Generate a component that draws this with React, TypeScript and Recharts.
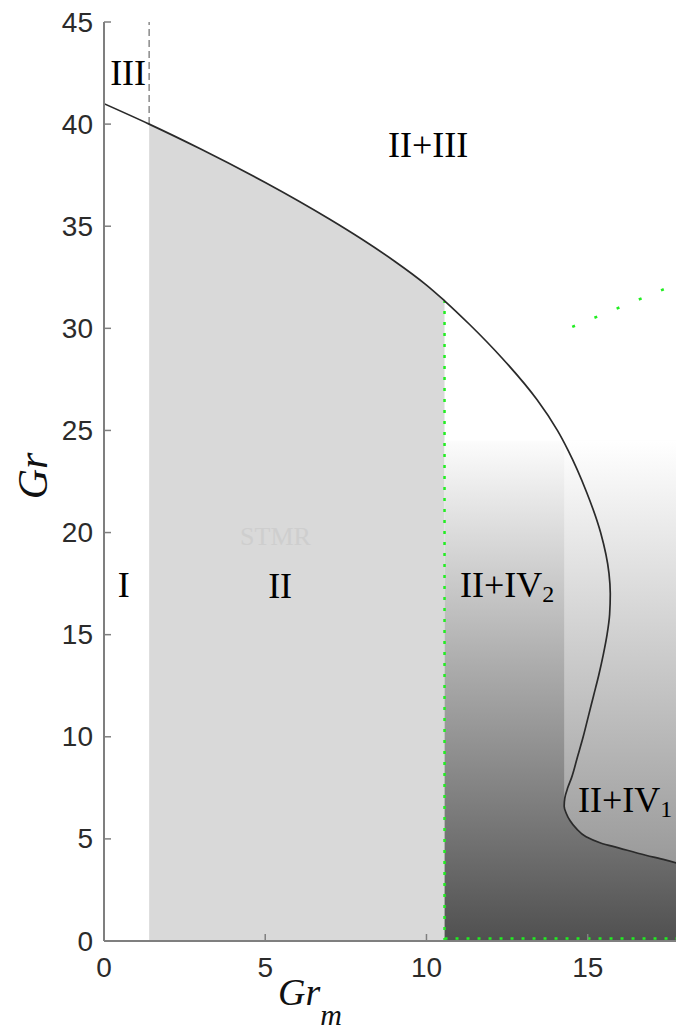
import {Area, ComposedChart, Label, Line, Scatter, XAxis, YAxis} from 'recharts'

// axis ticks
const grmTicks = [0, 5, 10, 15]
const grTicks = [0, 5, 10, 15, 20, 25, 30, 35, 40, 45]
const grmMax = 17.8
const grMax = 45

// neutral curve, read along its length (Gr_m, Gr); Gr falls all the way along it
const curveGrm = [
	0, 1.4, 3, 5, 7, 8, 9, 10, 10.56, 11.33, 12.37, 13.43, 14.06, 14.4, 14.96, 15.4, 15.66, 15.7, 15.68, 15.6, 15.48, 15.34,
	15.18, 15.02, 14.86, 14.68, 14.5, 14.38, 14.29, 14.27, 14.33, 14.45, 14.65, 14.95, 15.4, 15.98, 16.8, 17.4, 17.8,
]
const curveGr = [
	41.0, 40.0, 38.78, 37.14, 35.34, 34.36, 33.3, 32.12, 31.35, 30.2, 28.5, 26.5, 25.0, 24.0, 22.0, 20.0, 18.0, 17.0, 16.0, 15.0,
	14.0, 13.0, 12.0, 11.0, 10.0, 9.0, 8.0, 7.5, 7.0, 6.6, 6.27, 5.9, 5.5, 5.1, 4.8, 4.55, 4.2, 3.97, 3.8,
]

// region boundaries
const stmrGrm = 1.4 // dashed line / left edge of region II
const ivGrm = 10.56 // green dotted boundary
const darkTopGr = 24.5
const lightGrm = [14.27, 14.33, 14.45, 14.65, 14.95, 15.4, 15.98, 16.8, 17.4, 17.8]
const lightLow = [6.6, 6.27, 5.9, 5.5, 5.1, 4.8, 4.55, 4.2, 3.97, 3.8]
const greenDiagGrm = [14.52, 17.8]
const greenDiagGr = [30.07, 32.2]

// region names
const labelText = ['III', 'II+III', 'I', 'II', 'II+IV', 'II+IV']
const labelSub = ['', '', '', '', '2', '1']
const labelGrm = [0.19, 8.81, 0.43, 5.09, 11.04, 14.7]
const labelGr = [41.92, 38.39, 16.85, 16.8, 16.85, 6.32]
const watermark = [{x: 4.22, y: 19.39, text: 'STMR'}]

const curve = curveGrm.map((x, i) => ({x, y: curveGr[i]}))
const regionII = curve.filter((p, i) => i >= 1 && i <= 8)
const darkCol = [{x: ivGrm, y: darkTopGr}, {x: grmMax, y: darkTopGr}]
const lightBand = lightGrm.map((x, i) => ({x, band: [lightLow[i], darkTopGr]}))
const greenVert = [{x: ivGrm, y: 0}, {x: ivGrm, y: curveGr[8]}]
const greenBottom = [{x: ivGrm, y: 0.12}, {x: grmMax, y: 0.12}]
const greenDiag = greenDiagGrm.map((x, i) => ({x, y: greenDiagGr[i]}))
const dashedIII = [{x: stmrGrm, y: curveGr[1]}, {x: stmrGrm, y: grMax}]
const labels = labelText.map((text, i) => ({x: labelGrm[i], y: labelGr[i], text, sub: labelSub[i]}))

const AXIS = '#7f7f7f'
const GREEN = '#22ee22'
const SANS = '"Liberation Sans", Arial, sans-serif'
const SERIF = '"Liberation Serif", "Times New Roman", serif'

const LeftTick = ({x, y, payload}: any) => (
	<g>
		<line x1={x + 11} x2={x + 18} y1={y} y2={y} stroke={AXIS} strokeWidth={1.5} />
		<text x={x} y={y} textAnchor='end' dominantBaseline='central' fontFamily={SANS} fontSize={28} fill='#2b2b2b'>
			{payload.value}
		</text>
	</g>
)

const BottomTick = ({x, y, payload}: any) => (
	<g>
		<line x1={x} x2={x} y1={y - 26} y2={y - 33} stroke={AXIS} strokeWidth={1.5} />
		<text x={x} y={y} textAnchor='middle' dominantBaseline='central' fontFamily={SANS} fontSize={28} fill='#2b2b2b'>
			{payload.value}
		</text>
	</g>
)

const TopTick = ({x, y}: any) => <line x1={x} x2={x} y1={y} y2={y + 7} stroke={AXIS} strokeWidth={1.5} />
const RightTick = ({x, y}: any) => <line x1={x - 7} x2={x} y1={y} y2={y} stroke={AXIS} strokeWidth={1.5} />

const RegionLabel = ({cx, cy, payload}: any) => (
	<text x={cx} y={cy} fontFamily={SERIF} fontSize={36} fill='#000'>
		{payload.text}
		{payload.sub ? (
			<tspan dy={5} fontSize={24}>
				{payload.sub}
			</tspan>
		) : null}
	</text>
)

const Watermark = ({cx, cy, payload}: any) => (
	<text x={cx} y={cy} fontFamily={SERIF} fontSize={26} fill='#cecece'>
		{payload.text}
	</text>
)

const XTitle = ({viewBox}: any) => (
	<text x={viewBox.x + 174} y={viewBox.y + 64} fontFamily={SERIF} fontStyle='italic' fontSize={38} fill='#111'>
		Gr
		<tspan dy={20} fontSize={30}>
			m
		</tspan>
	</text>
)

const YTitle = ({viewBox}: any) => {
	const cx = viewBox.x + 47
	const cy = viewBox.y + 454
	return (
		<text
			x={cx}
			y={cy}
			transform={`rotate(-90, ${cx}, ${cy})`}
			textAnchor='middle'
			fontFamily={SERIF}
			fontStyle='italic'
			fontSize={42}
			fill='#111'
		>
			Gr
		</text>
	)
}

export default function App() {
	return (
		<div style={{position: 'absolute', left: 0, top: 0, width: 676, height: 1034, overflow: 'hidden', background: '#fff'}}>
			<ComposedChart width={690} height={1034} margin={{top: 22, right: 12, bottom: 0, left: 0}}>
				<defs>
					<linearGradient id='darkCol' x1='0' y1='0' x2='0' y2='1'>
						<stop offset='0%' stopColor='#fcfcfc' />
						<stop offset='45%' stopColor='#acacac' />
						<stop offset='100%' stopColor='#505050' />
					</linearGradient>
					<linearGradient id='lightCol' x1='0' y1='0' x2='0' y2='1'>
						<stop offset='0%' stopColor='#ffffff' />
						<stop offset='100%' stopColor='#9a9a9a' />
					</linearGradient>
				</defs>
				<XAxis
					dataKey='x'
					type='number'
					domain={[0, grmMax]}
					ticks={grmTicks}
					allowDataOverflow
					height={93}
					tickSize={0}
					tickMargin={26}
					tickLine={false}
					tick={BottomTick}
					axisLine={{stroke: AXIS, strokeWidth: 2}}
				>
					<Label content={XTitle} />
				</XAxis>
				<XAxis
					xAxisId='top'
					orientation='top'
					dataKey='x'
					type='number'
					domain={[0, grmMax]}
					ticks={grmTicks}
					allowDataOverflow
					height={0}
					tickSize={0}
					tickMargin={0}
					tickLine={false}
					tick={TopTick}
					axisLine={{stroke: AXIS, strokeWidth: 2}}
				/>
				<YAxis
					dataKey='y'
					type='number'
					domain={[0, grMax]}
					ticks={grTicks}
					allowDataOverflow
					width={104}
					tickSize={0}
					tickMargin={11}
					tickLine={false}
					tick={LeftTick}
					axisLine={{stroke: AXIS, strokeWidth: 2}}
				>
					<Label content={YTitle} />
				</YAxis>
				<YAxis
					yAxisId='right'
					orientation='right'
					dataKey='y'
					type='number'
					domain={[0, grMax]}
					ticks={grTicks}
					allowDataOverflow
					width={0}
					tickSize={0}
					tickMargin={0}
					tickLine={false}
					tick={RightTick}
					axisLine={{stroke: AXIS, strokeWidth: 2}}
				/>

				<Area data={regionII} dataKey='y' type='monotone' fill='#d9d9d9' fillOpacity={1} stroke='none' isAnimationActive={false} />
				<Area data={darkCol} dataKey='y' type='linear' fill='url(#darkCol)' fillOpacity={1} stroke='none' isAnimationActive={false} />
				<Area data={lightBand} dataKey='band' type='linear' fill='url(#lightCol)' fillOpacity={1} stroke='none' isAnimationActive={false} />

				<Line data={greenVert} dataKey='y' stroke={GREEN} strokeWidth={2.5} strokeDasharray='3 8' dot={false} isAnimationActive={false} />
				<Line data={greenBottom} dataKey='y' stroke={GREEN} strokeWidth={2.5} strokeDasharray='3 8' dot={false} isAnimationActive={false} />
				<Line data={greenDiag} dataKey='y' stroke={GREEN} strokeWidth={2.5} strokeDasharray='3 21' dot={false} isAnimationActive={false} />
				<Line data={dashedIII} dataKey='y' stroke='#8a8a8a' strokeWidth={1.5} strokeDasharray='7 4' dot={false} isAnimationActive={false} />
				<Line data={curve} dataKey='y' type='monotoneY' stroke='#2a2a2a' strokeWidth={1.7} dot={false} isAnimationActive={false} />

				<Scatter data={watermark} dataKey='y' shape={Watermark} isAnimationActive={false} />
				<Scatter data={labels} dataKey='y' shape={RegionLabel} isAnimationActive={false} />
			</ComposedChart>
		</div>
	)
}
